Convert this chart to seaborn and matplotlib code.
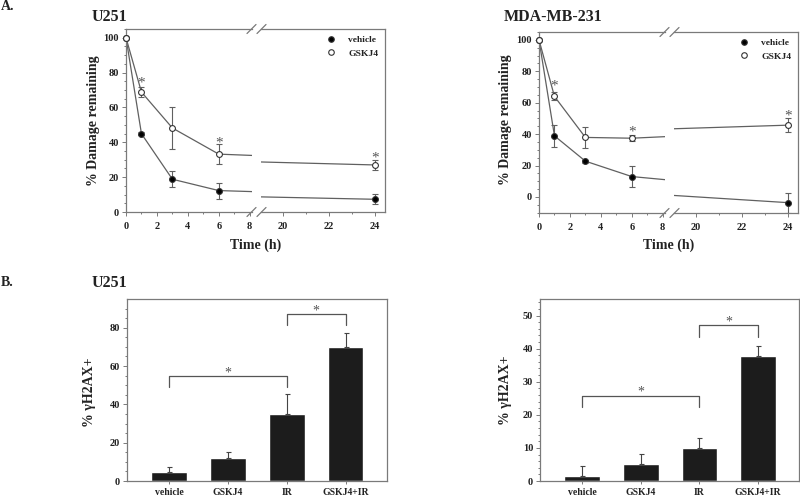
import numpy as np
import pandas as pd
import matplotlib
matplotlib.use('Agg')
import matplotlib.pyplot as plt
import seaborn as sns
from matplotlib.ticker import MultipleLocator
from matplotlib.lines import Line2D

# --- DATA ---
times = [0, 1, 3, 6, 24]

u251_vehicle = [100, 44.9, 18.8, 12.3, 7.3]
u251_vehicle_err = [0, 1.0, 4.6, 4.6, 2.9]
u251_gskj4 = [100, 68.8, 48.2, 33.2, 27.0]
u251_gskj4_err = [0, 3.0, 12.3, 5.8, 3.1]
u251_star_t = [1, 6, 24]
u251_star_y = [76, 41.8, 32.8]

mda_vehicle = [100, 38.9, 22.8, 13.0, -3.6]
mda_vehicle_err = [0, 6.9, 1.0, 6.9, 6.4]
mda_gskj4 = [100, 64.0, 37.9, 37.4, 45.7]
mda_gskj4_err = [0, 2.5, 6.5, 2.0, 4.3]
mda_star_t = [1, 6, 24]
mda_star_y = [72.3, 43.2, 53.6]

groups = ['vehicle', 'GSKJ4', 'IR', 'GSKJ4+IR']
u251_h2ax = [4.9, 11.8, 35.1, 69.7]
u251_h2ax_err = [2.6, 3.1, 10.2, 7.7]
mda_h2ax = [1.6, 5.0, 9.9, 37.8]
mda_h2ax_err = [3.0, 3.1, 3.0, 3.1]

# significance brackets: (from, to, leg bottom, bar height, star y)
u251_brackets = [(0, 2, 49.2, 54.8, 57.6), (2, 3, 81.4, 86.9, 89.6)]
mda_brackets = [(0, 2, 22.3, 25.8, 27.5), (2, 3, 43.6, 47.2, 48.7)]

# --- STYLE ---
sns.set_theme(style='ticks')
plt.rcParams['font.family'] = ['Liberation Serif', 'DejaVu Serif']
plt.rcParams['font.weight'] = 'bold'
plt.rcParams['axes.labelweight'] = 'bold'

W, H = 800, 498
fig = plt.figure(figsize=(W / 100, H / 100), dpi=100)

FRAME = '#7a7a7a'
LINE = '#606060'
TXT = '#222222'


def add_ax(x0, x1, y0, y1):
    # pixel box -> figure axes
    return fig.add_axes([x0 / W, 1 - y1 / H, (x1 - x0) / W, (y1 - y0) / H])


def style_ax(ax):
    for s in ax.spines.values():
        s.set_color(FRAME)
        s.set_linewidth(0.9)
    ax.tick_params(which='both', direction='out', color=FRAME, width=0.7,
                   labelsize=7.5, labelcolor=TXT)
    ax.tick_params(which='major', length=3)
    ax.tick_params(which='minor', length=1.5)
    for lab in ax.get_xticklabels() + ax.get_yticklabels():
        lab.set_fontweight('bold')


def fig_text(x, y, s, **kw):
    fig.text(x / W, 1 - y / H, s, color=TXT, fontweight='bold', **kw)


def time_panel(xl, xm1, xm2, xr, yt, yb, vehicle, v_err, gskj4, g_err,
               star_t, star_y, ylim):
    ax1 = add_ax(xl, xm1, yt, yb)
    ax2 = add_ax(xm2, xr, yt, yb)
    df = pd.DataFrame({
        'time': times * 2,
        'value': vehicle + gskj4,
        'treatment': ['vehicle'] * len(times) + ['GSKJ4'] * len(times),
    })
    for ax, lim in [(ax1, (0, 8.15)), (ax2, (19.05, 24.45))]:
        sns.lineplot(data=df, x='time', y='value', hue='treatment',
                     palette={'vehicle': LINE, 'GSKJ4': LINE},
                     estimator=None, linewidth=0.9, legend=False, ax=ax)
        t = np.array(times)
        keep = (t >= lim[0] - 0.01) & (t <= lim[1])
        for vals, errs, face in [(vehicle, v_err, 'black'),
                                 (gskj4, g_err, 'white')]:
            v = np.array(vals)[keep]
            e = np.array(errs)[keep]
            ax.errorbar(t[keep], v, yerr=e, fmt='none', ecolor=LINE,
                        elinewidth=0.8, capsize=2, capthick=0.8)
            ax.plot(t[keep], v, 'o', ms=4.2, mfc=face, mec='#333333',
                    mew=0.8, clip_on=False, zorder=5)
        for st, sy in zip(star_t, star_y):
            if lim[0] <= st <= lim[1]:
                ax.text(st, sy - 2.0, '*', ha='center', va='center',
                        fontsize=11, color='#555555', fontweight='normal')
        ax.set_xlim(*lim)
        ax.set_ylim(*ylim)
        ax.set_xlabel('')
        ax.set_ylabel('')
        ax.xaxis.set_major_locator(MultipleLocator(2))
        ax.xaxis.set_minor_locator(MultipleLocator(1))
        ax.yaxis.set_major_locator(MultipleLocator(20))
        ax.yaxis.set_minor_locator(MultipleLocator(5))
        style_ax(ax)
        ax.tick_params(axis='x', pad=4)
        ax.tick_params(axis='y', pad=2)
    ax1.spines['right'].set_visible(False)
    ax2.spines['left'].set_visible(False)
    ax2.tick_params(axis='y', which='both', left=False, labelleft=False)

    handles = [Line2D([], [], ls='none', marker='o', ms=4, mfc='black',
                      mec='#333333', mew=0.8),
               Line2D([], [], ls='none', marker='o', ms=4, mfc='white',
                      mec='#333333', mew=0.8)]
    leg = ax2.legend(handles, ['vehicle', 'GSKJ4'], loc='upper right',
                     frameon=False, fontsize=6.8, handletextpad=1.3,
                     borderaxespad=0.3, labelspacing=0.5, handlelength=1.0)
    for tx in leg.get_texts():
        tx.set_fontweight('bold')
        tx.set_color(TXT)

    # axis break marks
    for yy in (yt, yb):
        for xx in ((xm1 + xm2) / 2 - 5, (xm1 + xm2) / 2 + 5):
            fig.add_artist(Line2D([(xx - 4.5) / W, (xx + 4.5) / W],
                                  [1 - (yy + 4.5) / H, 1 - (yy - 4.5) / H],
                                  color=FRAME, lw=0.9))

    fig_text((xl + xr) / 2, 245, 'Time (h)', ha='center', va='center',
             fontsize=10)
    return ax1, ax2


def bar_panel(x0, x1, y0, y1, vals, errs, brackets, ylim, major, minor):
    ax = add_ax(x0, x1, y0, y1)
    sns.barplot(x=groups, y=vals, color='#1c1c1c', width=0.61,
                saturation=1, ax=ax)
    ax.errorbar(range(len(groups)), vals,
                yerr=[np.zeros(len(vals)), errs], fmt='none',
                ecolor='#444444', elinewidth=0.8, capsize=1.8, capthick=0.8)
    for a, b, lo, hi, sy in brackets:
        ax.plot([a, a, b, b], [lo, hi, hi, lo], color='#555555', lw=0.9)
        ax.text((a + b) / 2, sy - 0.012 * ylim[1], '*', ha='center',
                va='center', fontsize=10, color='#555555',
                fontweight='normal')
    ax.set_xlim(-0.72, 3.7)
    ax.set_ylim(*ylim)
    ax.set_xlabel('')
    ax.yaxis.set_major_locator(MultipleLocator(major))
    ax.yaxis.set_minor_locator(MultipleLocator(minor))
    style_ax(ax)
    ax.tick_params(axis='x', length=2, pad=3, labelsize=7)
    ax.tick_params(axis='y', pad=2)
    return ax


# --- PANEL A ---
time_panel(126, 252, 261, 385, 29, 212, u251_vehicle, u251_vehicle_err,
           u251_gskj4, u251_gskj4_err, u251_star_t, u251_star_y, (0, 105))
time_panel(539, 665, 674, 798, 32, 213, mda_vehicle, mda_vehicle_err,
           mda_gskj4, mda_gskj4_err, mda_star_t, mda_star_y, (-10.2, 105))

fig_text(93, 121, '% Damage remaining', rotation=90, ha='center',
         va='center', fontsize=10)
fig_text(505, 120, '% Damage remaining', rotation=90, ha='center',
         va='center', fontsize=10)

# --- PANEL B ---
bar_panel(126.7, 386.7, 299.3, 481, u251_h2ax, u251_h2ax_err,
          u251_brackets, (0, 94.8), 20, 5)
bar_panel(540, 799, 299.3, 481, mda_h2ax, mda_h2ax_err,
          mda_brackets, (0, 54.9), 10, 2)

fig_text(90, 392, '% \u03b3H2AX+', rotation=90, ha='center', va='center',
         fontsize=10)
fig_text(505, 390, '% \u03b3H2AX+', rotation=90, ha='center', va='center',
         fontsize=10)

# panel letters and titles
fig_text(1, 7, 'A.', ha='left', va='center', fontsize=10)
fig_text(1, 283, 'B.', ha='left', va='center', fontsize=10)
fig_text(92, 17, 'U251', ha='left', va='center', fontsize=11.5)
fig_text(504, 17, 'MDA-MB-231', ha='left', va='center', fontsize=11.5)
fig_text(92, 283, 'U251', ha='left', va='center', fontsize=11.5)

fig.savefig('out.png', dpi=100)
